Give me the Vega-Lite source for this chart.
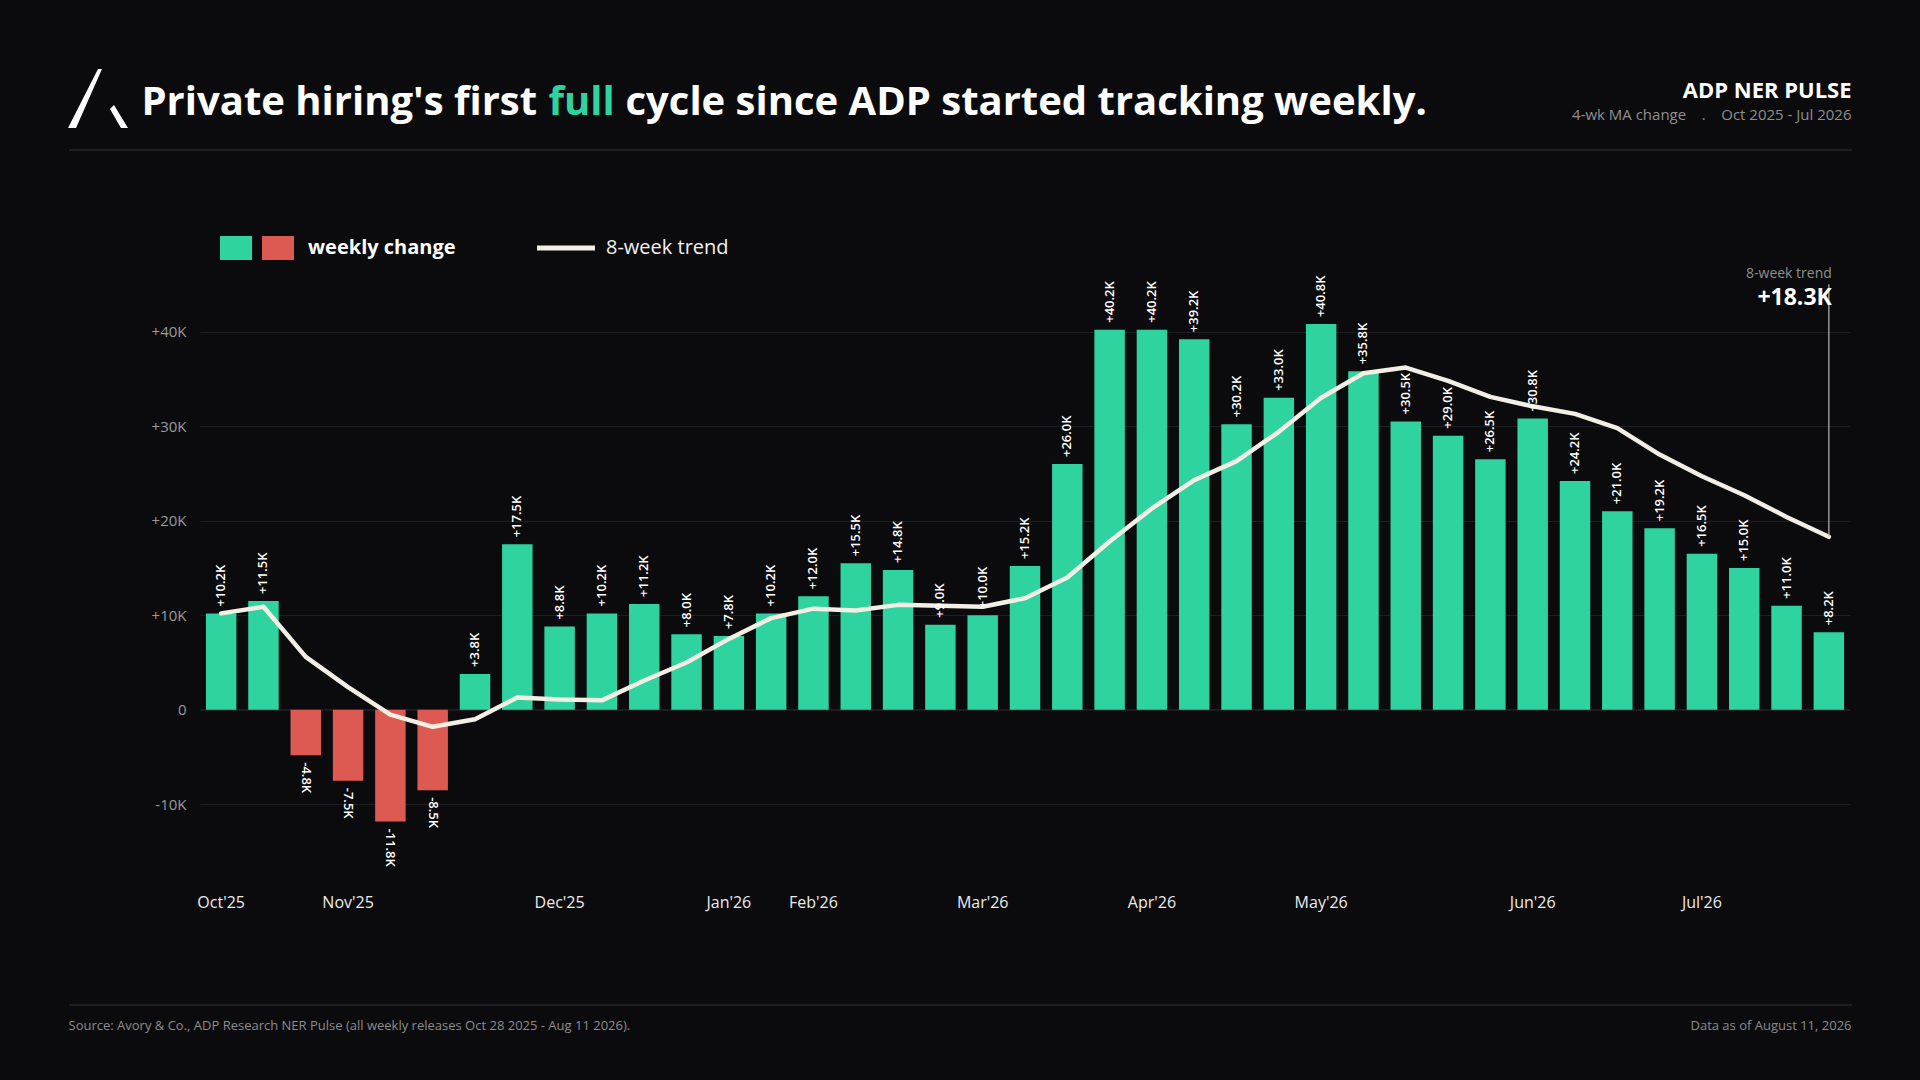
{
  "$schema": "https://vega.github.io/schema/vega-lite/v6.json",
  "width": 1650,
  "height": 624,
  "autosize": {"type": "none"},
  "padding": {"left": 200, "top": 256, "right": 70, "bottom": 200},
  "background": "#0b0b0d",
  "config": {
    "font": "Open Sans",
    "view": {"stroke": null},
    "locale": {"number": {"decimal": ".", "thousands": ",", "grouping": [3], "currency": ["", "K"], "minus": "-"}},
    "axis": {"domain": false, "ticks": false, "grid": false, "labels": false, "titleAngle": 0, "titleBaseline": "middle", "titleAlign": "left", "titleFont": "Open Sans"},
    "legend": {"orient": "none", "title": null, "padding": 0, "offset": 0, "labelFont": "Open Sans"}
  },
  "data": {
    "values": [
      {"wk": "Oct'25", "chg": 10.2, "trend": 10.2, "dir": "gain"},
      {"wk": "Oct'25 +1", "chg": 11.5, "trend": 10.9, "dir": "gain"},
      {"wk": "Oct'25 +2", "chg": -4.8, "trend": 5.6, "dir": "loss"},
      {"wk": "Nov'25", "chg": -7.5, "trend": 2.4, "dir": "loss"},
      {"wk": "Nov'25 +1", "chg": -11.8, "trend": -0.5, "dir": "loss"},
      {"wk": "Nov'25 +2", "chg": -8.5, "trend": -1.8, "dir": "loss"},
      {"wk": "Nov'25 +3", "chg": 3.8, "trend": -1.0, "dir": "gain"},
      {"wk": "Nov'25 +4", "chg": 17.5, "trend": 1.3, "dir": "gain"},
      {"wk": "Dec'25", "chg": 8.8, "trend": 1.1, "dir": "gain"},
      {"wk": "Dec'25 +1", "chg": 10.2, "trend": 1.0, "dir": "gain"},
      {"wk": "Dec'25 +2", "chg": 11.2, "trend": 3.1, "dir": "gain"},
      {"wk": "Dec'25 +3", "chg": 8.0, "trend": 5.0, "dir": "gain"},
      {"wk": "Jan'26", "chg": 7.8, "trend": 7.5, "dir": "gain"},
      {"wk": "Jan'26 +1", "chg": 10.2, "trend": 9.7, "dir": "gain"},
      {"wk": "Feb'26", "chg": 12.0, "trend": 10.7, "dir": "gain"},
      {"wk": "Feb'26 +1", "chg": 15.5, "trend": 10.5, "dir": "gain"},
      {"wk": "Feb'26 +2", "chg": 14.8, "trend": 11.1, "dir": "gain"},
      {"wk": "Feb'26 +3", "chg": 9.0, "trend": 11.0, "dir": "gain"},
      {"wk": "Mar'26", "chg": 10.0, "trend": 10.9, "dir": "gain"},
      {"wk": "Mar'26 +1", "chg": 15.2, "trend": 11.8, "dir": "gain"},
      {"wk": "Mar'26 +2", "chg": 26.0, "trend": 14.0, "dir": "gain"},
      {"wk": "Mar'26 +3", "chg": 40.2, "trend": 17.8, "dir": "gain"},
      {"wk": "Apr'26", "chg": 40.2, "trend": 21.3, "dir": "gain"},
      {"wk": "Apr'26 +1", "chg": 39.2, "trend": 24.3, "dir": "gain"},
      {"wk": "Apr'26 +2", "chg": 30.2, "trend": 26.3, "dir": "gain"},
      {"wk": "Apr'26 +3", "chg": 33.0, "trend": 29.4, "dir": "gain"},
      {"wk": "May'26", "chg": 40.8, "trend": 33.0, "dir": "gain"},
      {"wk": "May'26 +1", "chg": 35.8, "trend": 35.6, "dir": "gain"},
      {"wk": "May'26 +2", "chg": 30.5, "trend": 36.2, "dir": "gain"},
      {"wk": "May'26 +3", "chg": 29.0, "trend": 34.8, "dir": "gain"},
      {"wk": "May'26 +4", "chg": 26.5, "trend": 33.1, "dir": "gain"},
      {"wk": "Jun'26", "chg": 30.8, "trend": 32.1, "dir": "gain"},
      {"wk": "Jun'26 +1", "chg": 24.2, "trend": 31.3, "dir": "gain"},
      {"wk": "Jun'26 +2", "chg": 21.0, "trend": 29.8, "dir": "gain"},
      {"wk": "Jun'26 +3", "chg": 19.2, "trend": 27.0, "dir": "gain"},
      {"wk": "Jul'26", "chg": 16.5, "trend": 24.7, "dir": "gain"},
      {"wk": "Jul'26 +1", "chg": 15.0, "trend": 22.7, "dir": "gain"},
      {"wk": "Jul'26 +2", "chg": 11.0, "trend": 20.4, "dir": "gain"},
      {"wk": "Jul'26 +3", "chg": 8.2, "trend": 18.3, "dir": "gain"}
    ]
  },
  "resolve": {"axis": {"x": "independent", "y": "independent"}},
  "layer": [
    {
      "mark": {"type": "rule", "color": "#1e1f22", "strokeWidth": 1},
      "encoding": {
        "y": {"datum": 0, "type": "quantitative", "axis": null},
        "strokeDash": {
          "datum": "separators",
          "type": "nominal",
          "scale": {"range": [[1, 0]]},
          "legend": {
            "legendX": 754.5,
            "legendY": 315.5,
            "symbolType": "M-178.3,-85.5H178.3M-178.3,85.5H178.3",
            "symbolSize": 100,
            "symbolStrokeWidth": 2,
            "labelExpr": "''"
          }
        }
      }
    },
    {
      "mark": {"type": "bar"},
      "encoding": {
        "x": {
          "field": "wk",
          "type": "nominal",
          "sort": null,
          "scale": {"paddingInner": 0.28, "paddingOuter": 0.14},
          "axis": {
            "orient": "bottom",
            "labels": true,
            "labelExpr": "indexof(datum.value, '+') >= 0 ? '' : datum.value",
            "labelColor": "#ececec",
            "labelFontSize": 16,
            "labelPadding": 14.5,
            "labelAngle": 0,
            "labelBaseline": "top",
            "labelOverlap": false,
            "title": "Source: Avory & Co., ADP Research NER Pulse (all weekly releases Oct 28 2025 - Aug 11 2026).",
            "titleX": -132,
            "titleY": 145,
            "titleColor": "#8c8c8c",
            "titleFontSize": 13,
            "titleFontWeight": "normal"
          }
        },
        "y": {
          "field": "chg",
          "type": "quantitative",
          "scale": {"domain": [-18, 48], "nice": false},
          "axis": {
            "orient": "left",
            "values": [-10, 0, 10, 20, 30, 40],
            "labels": true,
            "grid": true,
            "gridColor": "#1e1f22",
            "gridWidth": 1,
            "format": "+$d",
            "labelExpr": "datum.value === 0 ? '0' : datum.label",
            "labelColor": "#9a9a9a",
            "labelFontSize": 15,
            "labelPadding": 14,
            "title": "Private hiring's first",
            "titleX": -59,
            "titleY": -154,
            "titleColor": "#ffffff",
            "titleFontSize": 40,
            "titleFontWeight": "bold"
          }
        },
        "color": {
          "field": "dir",
          "type": "nominal",
          "scale": {"domain": ["gain", "loss"], "range": ["#2ed3a0", "#dc5a52"]},
          "legend": {
            "legendX": 24,
            "legendY": -20,
            "direction": "horizontal",
            "symbolType": "M-1.333,-1H1.333V1H-1.333Z",
            "symbolSize": 576,
            "symbolStrokeWidth": 0,
            "symbolOpacity": 1,
            "labelExpr": "datum.value === 'loss' ? 'weekly change' : ''",
            "labelFontSize": 20,
            "labelFontWeight": "bold",
            "labelColor": "#ffffff",
            "labelOffset": 18,
            "columnPadding": -5.5
          }
        }
      }
    },
    {
      "mark": {"type": "line", "strokeWidth": 4.5, "strokeCap": "round", "strokeJoin": "round"},
      "encoding": {
        "x": {
          "field": "wk",
          "type": "nominal",
          "sort": null,
          "axis": {
            "orient": "bottom",
            "title": "Data as of August 11, 2026",
            "titleX": 1651,
            "titleY": 145,
            "titleAlign": "right",
            "titleColor": "#8c8c8c",
            "titleFontSize": 13,
            "titleFontWeight": "normal"
          }
        },
        "y": {
          "field": "trend",
          "type": "quantitative",
          "axis": {
            "orient": "left",
            "title": "cycle since ADP started tracking weekly.",
            "titleX": 425,
            "titleY": -154,
            "titleColor": "#ffffff",
            "titleFontSize": 40,
            "titleFontWeight": "bold"
          }
        },
        "stroke": {
          "datum": "8-week trend",
          "type": "nominal",
          "scale": {"range": ["#f4efe5"]},
          "legend": {
            "legendX": 334.5,
            "legendY": -39.5,
            "symbolType": "stroke",
            "symbolSize": 3364,
            "symbolStrokeWidth": 5,
            "labelFontSize": 20,
            "labelColor": "#f2f2f2",
            "labelOffset": 8.5
          }
        }
      }
    },
    {
      "transform": [{"filter": "datum.chg >= 0"}],
      "mark": {"type": "text", "angle": 270, "align": "left", "baseline": "middle", "dx": 7, "fontSize": 13, "fontWeight": 600, "color": "#ffffff"},
      "encoding": {
        "x": {"field": "wk", "type": "nominal", "sort": null, "axis": null},
        "y": {
          "field": "chg",
          "type": "quantitative",
          "axis": {
            "orient": "left",
            "title": "full",
            "titleX": 348,
            "titleY": -154,
            "titleColor": "#2ed3a0",
            "titleFontSize": 40,
            "titleFontWeight": "bold"
          }
        },
        "text": {"field": "chg", "type": "quantitative", "format": "+$.1f"}
      }
    },
    {
      "transform": [{"filter": "datum.chg < 0"}],
      "mark": {"type": "text", "angle": 90, "align": "left", "baseline": "middle", "dx": 7, "fontSize": 13, "fontWeight": 600, "color": "#ffffff"},
      "encoding": {
        "x": {"field": "wk", "type": "nominal", "sort": null, "axis": null},
        "y": {
          "field": "chg",
          "type": "quantitative",
          "axis": {
            "orient": "left",
            "title": "ADP NER PULSE",
            "titleX": 1651,
            "titleY": -166,
            "titleAlign": "right",
            "titleColor": "#ffffff",
            "titleFontSize": 22,
            "titleFontWeight": "bold"
          }
        },
        "text": {"field": "chg", "type": "quantitative", "format": "+$.1f"}
      }
    },
    {
      "transform": [{"filter": {"field": "wk", "equal": "Jul'26 +3"}}],
      "mark": {"type": "rule", "color": "#b8b8b8", "strokeWidth": 1.2},
      "encoding": {
        "x": {"field": "wk", "type": "nominal", "sort": null, "axis": null},
        "y": {
          "field": "trend",
          "type": "quantitative",
          "axis": {
            "orient": "left",
            "title": "4-wk MA change\u00a0\u00a0\u00a0\u00a0.\u00a0\u00a0\u00a0\u00a0Oct 2025 - Jul 2026",
            "titleX": 1651,
            "titleY": -142,
            "titleAlign": "right",
            "titleColor": "#8f8f8f",
            "titleFontSize": 15,
            "titleFontWeight": "normal"
          }
        },
        "y2": {"datum": 45}
      }
    },
    {
      "transform": [{"filter": {"field": "wk", "equal": "Jul'26 +3"}}],
      "mark": {"type": "text", "text": "8-week trend", "align": "right", "baseline": "middle", "dx": 3, "fontSize": 14, "color": "#8f8f8f"},
      "encoding": {
        "x": {"field": "wk", "type": "nominal", "sort": null, "axis": null},
        "y": {"datum": 46.1, "type": "quantitative", "axis": null}
      }
    },
    {
      "transform": [{"filter": {"field": "wk", "equal": "Jul'26 +3"}}],
      "mark": {"type": "text", "align": "right", "baseline": "middle", "dx": 3, "fontSize": 23, "fontWeight": "bold", "color": "#ffffff"},
      "encoding": {
        "x": {"field": "wk", "type": "nominal", "sort": null, "axis": null},
        "y": {"datum": 43.6, "type": "quantitative", "axis": null},
        "text": {"field": "trend", "type": "quantitative", "format": "+$.1f"},
        "opacity": {
          "datum": "logo",
          "type": "nominal",
          "scale": {"range": [1]},
          "legend": {
            "legendX": -132,
            "legendY": -188,
            "symbolType": "M-1,1L-0.733,1L0.133,-0.967L0,-0.967ZM0.4,0.367L0.533,0.233L1,1L0.767,1Z",
            "symbolSize": 3600,
            "symbolStrokeWidth": 0,
            "symbolFillColor": "#ffffff",
            "labelExpr": "''"
          }
        }
      }
    }
  ]
}
